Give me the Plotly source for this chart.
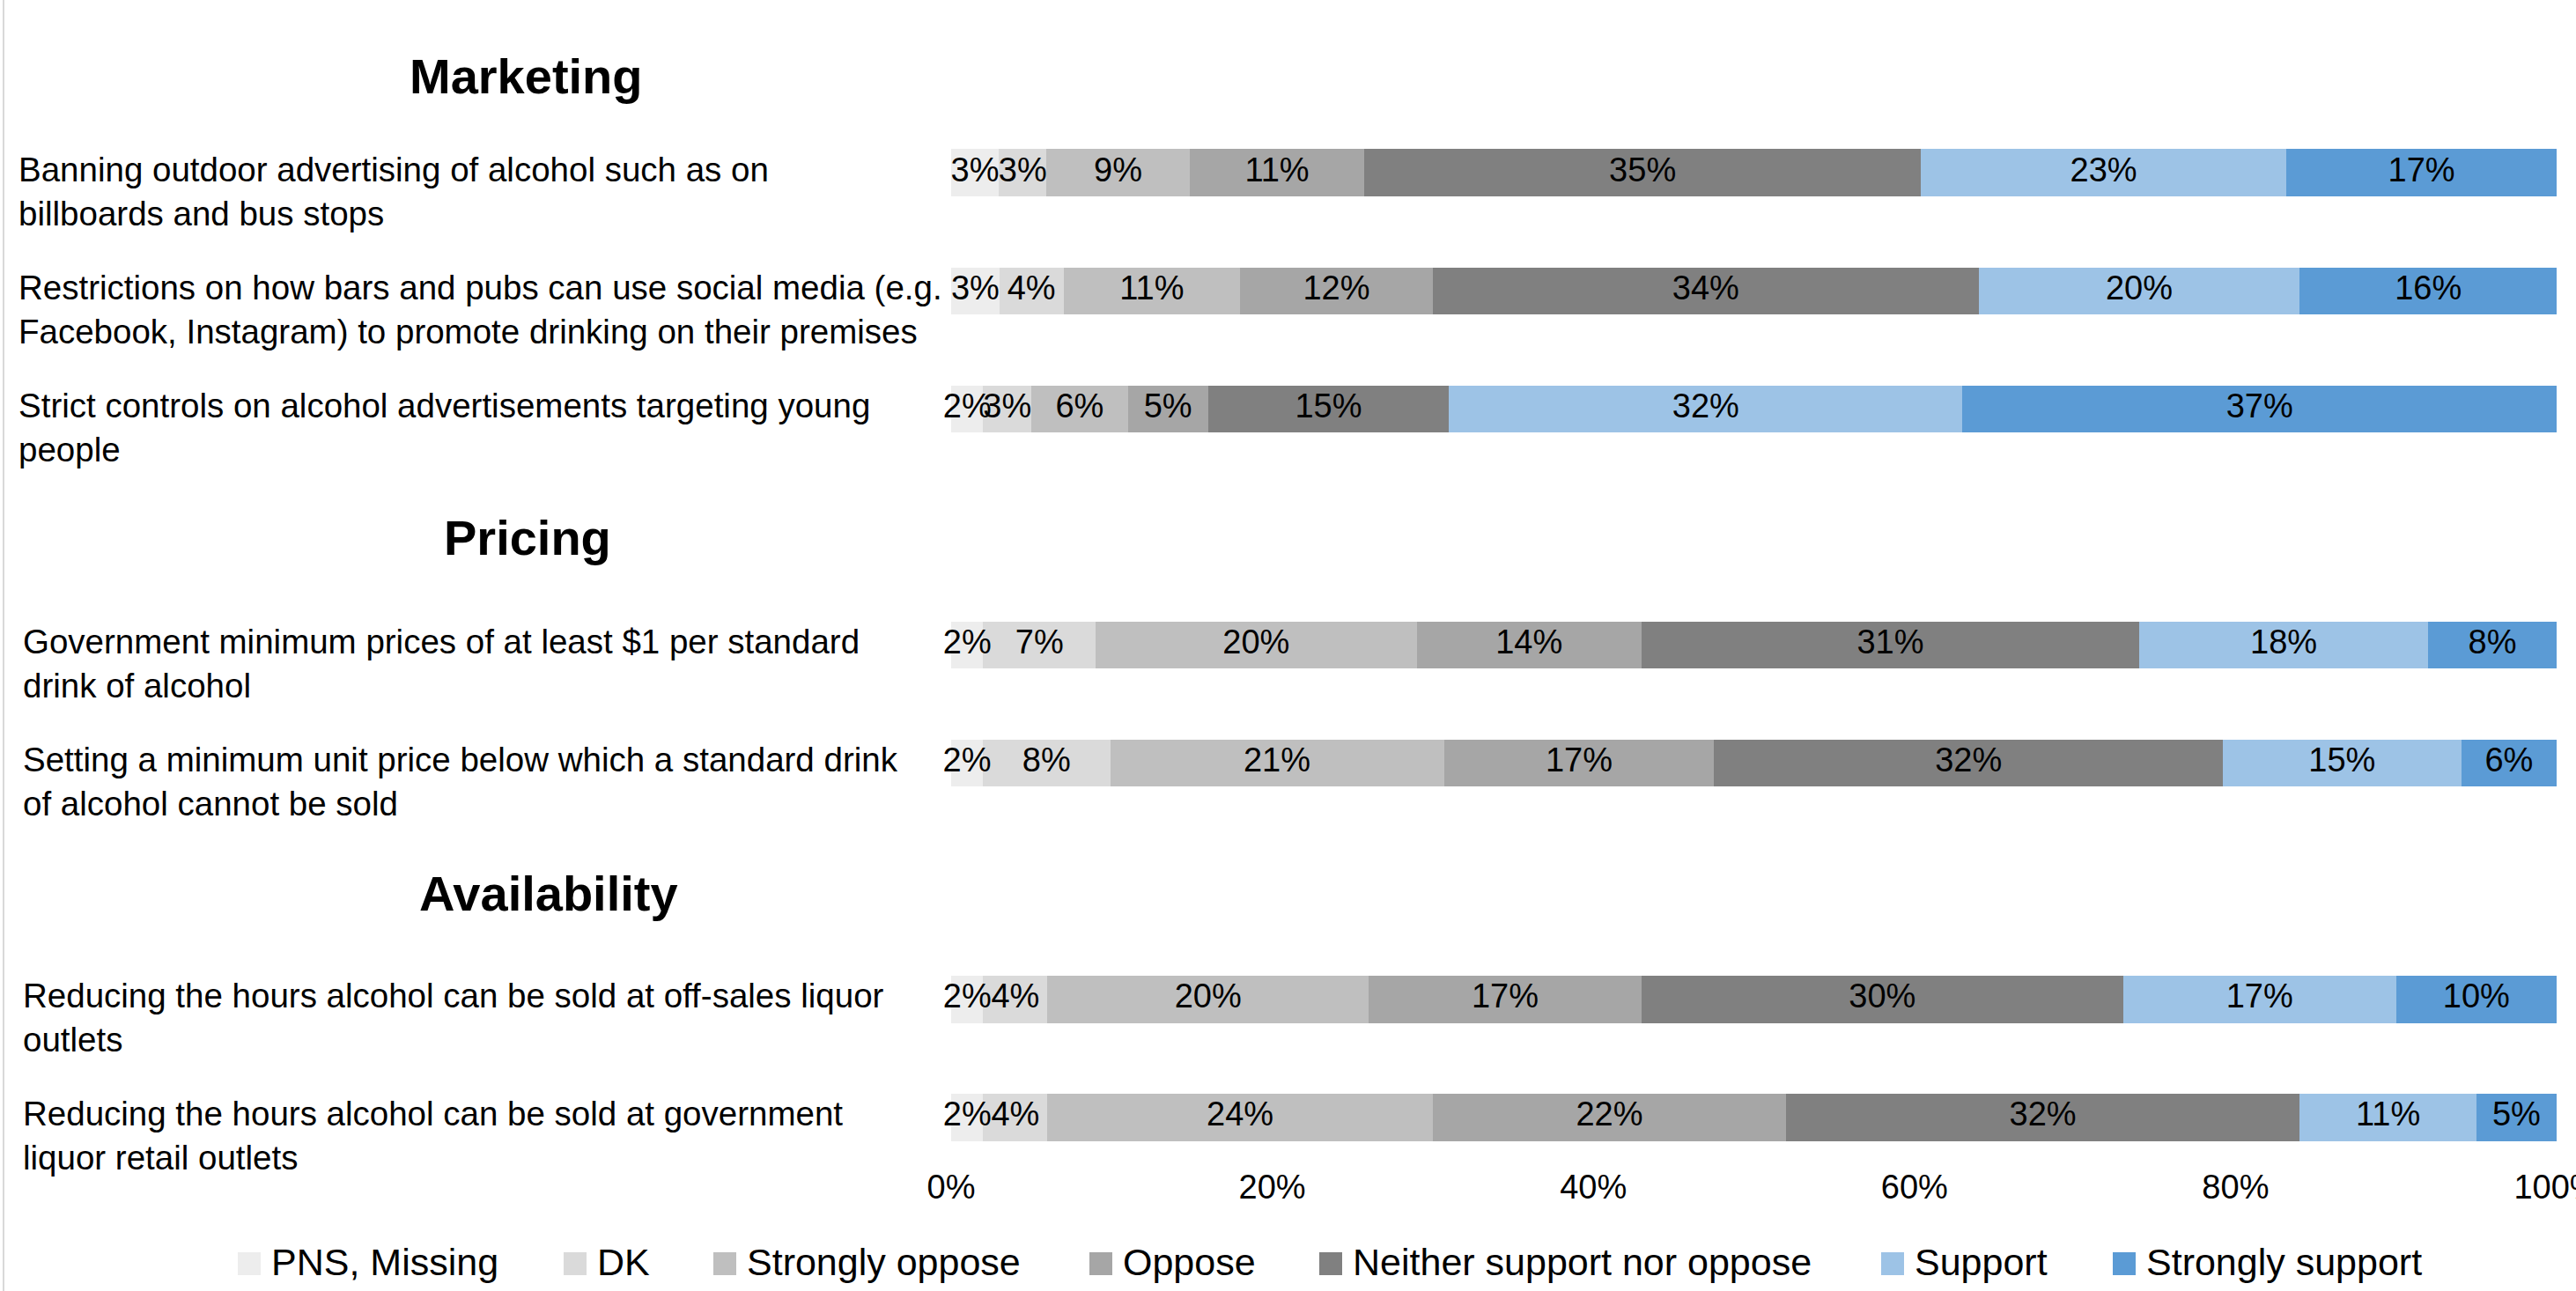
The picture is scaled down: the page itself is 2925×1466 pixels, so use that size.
import numpy as np
import plotly.graph_objects as go

# ---------------- data ----------------
groups = ["Marketing", "Pricing", "Availability"]
categories = [
    "Banning outdoor advertising of alcohol such as on<br>billboards and bus stops",
    "Restrictions on how bars and pubs can use social media (e.g.<br>Facebook, Instagram) to promote drinking on their premises",
    "Strict controls on alcohol advertisements targeting young<br>people",
    "Government minimum prices of at least $1 per standard<br>drink of alcohol",
    "Setting a minimum unit price below which a standard drink<br>of alcohol cannot be sold",
    "Reducing the hours alcohol can be sold at off-sales liquor<br>outlets",
    "Reducing the hours alcohol can be sold at government<br>liquor retail outlets",
]
category_group = ["Marketing", "Marketing", "Marketing", "Pricing", "Pricing",
                  "Availability", "Availability"]
series_names = ["PNS, Missing", "DK", "Strongly oppose", "Oppose",
                "Neither support nor oppose", "Support", "Strongly support"]
pns_missing = [3, 3, 2, 2, 2, 2, 2]
dont_know = [3, 4, 3, 7, 8, 4, 4]
strongly_oppose = [9, 11, 6, 20, 21, 20, 24]
oppose = [11, 12, 5, 14, 17, 17, 22]
neither = [35, 34, 15, 31, 32, 30, 32]
support = [23, 20, 32, 18, 15, 17, 11]
strongly_support = [17, 16, 37, 8, 6, 10, 5]
series_values = [pns_missing, dont_know, strongly_oppose, oppose, neither,
                 support, strongly_support]
tick_values = [0, 20, 40, 60, 80, 100]
tick_labels = ["0%", "20%", "40%", "60%", "80%", "100%"]

# ---------------- styles ----------------
colors = ["#EDEDED", "#DADADA", "#BFBFBF", "#A6A6A6", "#808080", "#9DC3E6", "#5B9BD5"]
FONT = "Liberation Sans, Arial, sans-serif"
W, H = 2925, 1466
PL, PR = 1080, 2903      # plot area left/right in px
PT, PB = 22, 1309        # plot area top/bottom in px


def px_x(px):
    return (px - PL) / (PR - PL)


def px_y(py):
    return (PB - py) / (PB - PT)


# category order on the y axis with heading rows
order = []
for g in groups:
    order.append(g)
    order += [c for c, cg in zip(categories, category_group) if cg == g]

fig = go.Figure()
for name, vals, col in zip(series_names, series_values, colors):
    fig.add_trace(go.Bar(
        name=name, y=categories, x=vals, orientation="h",
        marker=dict(color=col, line=dict(width=0)),
        width=0.4, showlegend=False, hoverinfo="skip",
    ))

# data labels drawn above all bars (100%-stacked midpoints)
vals_arr = np.array(series_values, dtype=float)
pct = vals_arr / vals_arr.sum(axis=0) * 100
mid = np.cumsum(pct, axis=0) - pct / 2
lab_x, lab_y, lab_t = [], [], []
for s, vals in enumerate(series_values):
    for r, v in enumerate(vals):
        lab_x.append(mid[s, r])
        lab_y.append(categories[r])
        lab_t.append(f"{v}%")
fig.add_trace(go.Scatter(
    x=lab_x, y=lab_y, text=lab_t, mode="text", textposition="middle center",
    textfont=dict(family=FONT, size=38, color="black"),
    cliponaxis=False, showlegend=False, hoverinfo="skip",
))

annotations = []
# category labels (left aligned)
label_x = {"Marketing": 19, "Pricing": 24, "Availability": 24}
for c, g in zip(categories, category_group):
    annotations.append(dict(
        x=px_x(label_x[g]), xref="paper", y=c, yref="y",
        text=c, showarrow=False, xanchor="left", yanchor="middle",
        align="left", yshift=-21,
        font=dict(family=FONT, size=38.5, color="black")))

# group headings
heading_pos = {"Marketing": (597, -24), "Pricing": (599, -12), "Availability": (623, -14)}
for g in groups:
    hx, hs = heading_pos[g]
    annotations.append(dict(
        x=px_x(hx), xref="paper", y=g, yref="y", text=f"<b>{g}</b>",
        showarrow=False, xanchor="center", yanchor="middle", yshift=hs,
        font=dict(family=FONT, size=56, color="black")))

# manual legend
shapes = []
legend_marker_left = [270, 640, 810, 1237, 1498, 2136, 2399]
LEG_Y = 1435
for name, col, lx in zip(series_names, colors, legend_marker_left):
    shapes.append(dict(type="rect", xref="paper", yref="paper",
                       x0=px_x(lx), x1=px_x(lx + 26),
                       y0=px_y(LEG_Y + 13), y1=px_y(LEG_Y - 13),
                       fillcolor=col, line=dict(width=0)))
    annotations.append(dict(
        x=px_x(lx + 36), xref="paper", y=px_y(LEG_Y - 2), yref="paper",
        text=name, showarrow=False, xanchor="left", yanchor="middle",
        font=dict(family=FONT, size=43, color="black")))

# left border line of the chart area
shapes.append(dict(type="line", xref="paper", yref="paper",
                   x0=px_x(4), x1=px_x(4), y0=px_y(H), y1=px_y(0),
                   line=dict(color="#D9D9D9", width=2)))

fig.update_layout(
    template="none",
    width=W, height=H, autosize=False,
    margin=dict(l=PL, r=W - PR, t=PT, b=H - PB, pad=0, autoexpand=False),
    barmode="stack", barnorm="percent",
    paper_bgcolor="white", plot_bgcolor="white",
    font=dict(family=FONT, color="black"),
    xaxis=dict(range=[0, 100], tickvals=tick_values, ticktext=tick_labels,
               showgrid=False, zeroline=False, showline=False, ticks="",
               automargin=False,
               ticklabelstandoff=13, ticklabeloverflow="allow",
               tickfont=dict(family=FONT, size=38, color="black")),
    yaxis=dict(type="category", categoryorder="array", categoryarray=order,
               range=[9.3, -0.3], showticklabels=False, showgrid=False,
               zeroline=False, showline=False, ticks="", automargin=False),
    annotations=annotations, shapes=shapes, showlegend=False,
)

fig.write_html(
    "out.html",
    config={"displayModeBar": False},
    post_script="document.body.style.margin='0';document.body.style.padding='0';"
                "document.documentElement.style.overflow='hidden';",
)
